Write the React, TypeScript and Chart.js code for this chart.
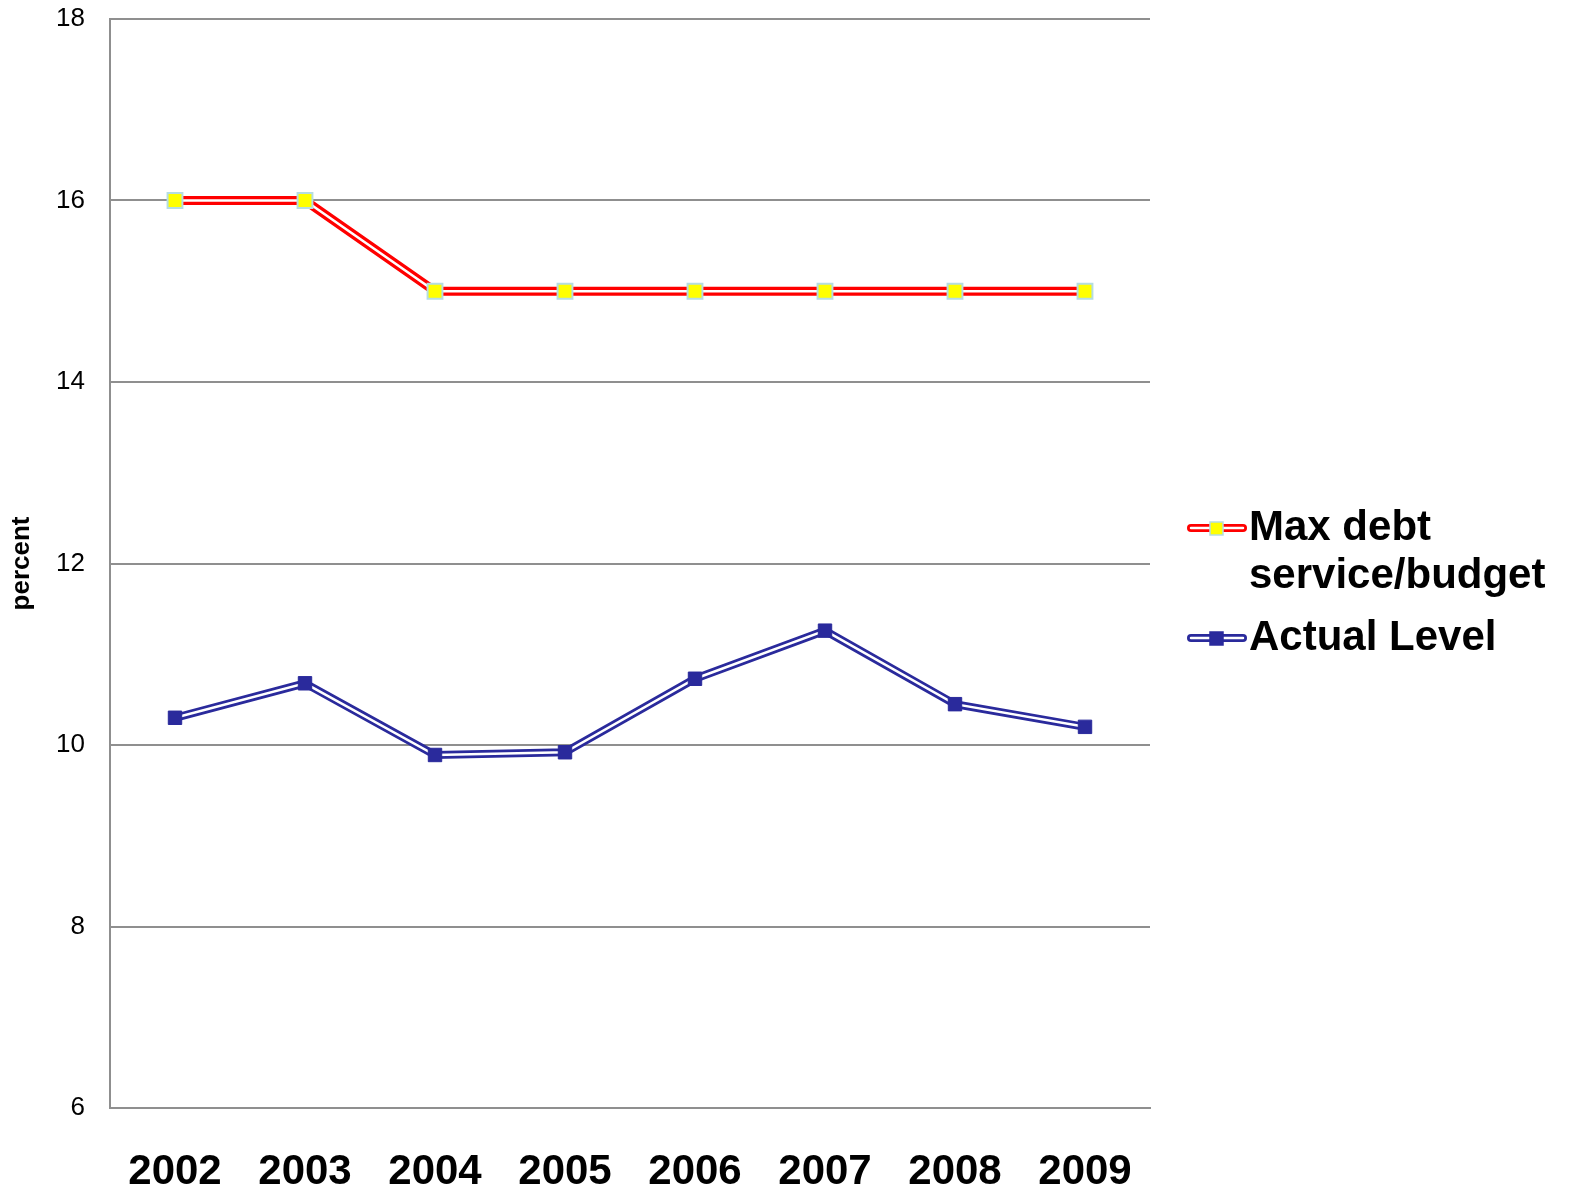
import React, { useEffect, useRef } from "react";
import { Chart, registerables } from "chart.js";

Chart.register(...registerables);

const years = ["2002", "2003", "2004", "2005", "2006", "2007", "2008", "2009"];
const maxDebt = [16, 16, 15, 15, 15, 15, 15, 15];
const actualLevel = [10.3, 10.68, 9.89, 9.92, 10.73, 11.26, 10.45, 10.2];
const legendLabels = [["Max debt", "service/budget"], ["Actual Level"]];
const yTicks = [6, 8, 10, 12, 14, 16, 18];

const RED = "#ff0000";
const BLUE = "#2a2a9c";
const YELLOW = "#ffff00";
const MARKER_BORDER = "#b4dde2";

const legendPlugin = {
  id: "customLegend",
  afterDraw(chart: any) {
    const ctx = chart.ctx;
    const items = [
      { color: RED, fill: YELLOW, border: MARKER_BORDER, y: 528, lines: legendLabels[0] },
      { color: BLUE, fill: BLUE, border: BLUE, y: 638, lines: legendLabels[1] },
    ];
    ctx.save();
    for (const it of items) {
      ctx.lineCap = "round";
      ctx.strokeStyle = it.color;
      ctx.lineWidth = 8;
      ctx.beginPath();
      ctx.moveTo(1191, it.y);
      ctx.lineTo(1243, it.y);
      ctx.stroke();
      ctx.strokeStyle = "#ffffff";
      ctx.lineWidth = 2.5;
      ctx.beginPath();
      ctx.moveTo(1191, it.y);
      ctx.lineTo(1243, it.y);
      ctx.stroke();
      ctx.fillStyle = it.fill;
      ctx.fillRect(1210, it.y - 6, 13, 13);
      ctx.strokeStyle = it.border;
      ctx.lineWidth = 1.5;
      ctx.strokeRect(1210, it.y - 6, 13, 13);
      ctx.fillStyle = "#000";
      ctx.font = "bold 42px Arial, 'Liberation Sans', sans-serif";
      ctx.textBaseline = "middle";
      ctx.textAlign = "left";
      it.lines.forEach((t: string, i: number) => {
        ctx.fillText(t, 1249, it.y + i * 48);
      });
    }
    ctx.restore();
  },
};

export default function App() {
  const ref = useRef<HTMLCanvasElement | null>(null);
  useEffect(() => {
    if (!ref.current) return;
    const chart = new Chart(ref.current, {
      type: "line",
      data: {
        labels: years,
        datasets: [
          {
            label: "Max debt service/budget",
            data: maxDebt,
            borderColor: "#ffffff",
            borderWidth: 2.5,
            pointStyle: "rect",
            pointRadius: 10.5,
            pointBackgroundColor: YELLOW,
            pointBorderColor: MARKER_BORDER,
            pointBorderWidth: 2,
            order: 1,
          },
          {
            label: "Actual Level",
            data: actualLevel,
            borderColor: "#ffffff",
            borderWidth: 2.5,
            pointStyle: "rect",
            pointRadius: 9.5,
            pointBackgroundColor: BLUE,
            pointBorderColor: BLUE,
            pointBorderWidth: 1,
            order: 2,
          },
          {
            label: "_redOuter",
            data: maxDebt,
            borderColor: RED,
            borderWidth: 9,
            pointRadius: 0,
            order: 3,
          },
          {
            label: "_blueOuter",
            data: actualLevel,
            borderColor: BLUE,
            borderWidth: 8,
            pointRadius: 0,
            order: 4,
          },
        ],
      },
      options: {
        animation: false,
        responsive: true,
        maintainAspectRatio: false,
        layout: { padding: { top: 0, right: 419, left: 0, bottom: 0 } },
        plugins: {
          legend: { display: false },
          tooltip: { enabled: false },
        },
        scales: {
          x: {
            offset: true,
            grid: { display: false, drawTicks: false },
            border: { display: true, color: "#8f8f8f", width: 2 },
            ticks: {
              padding: 39,
              color: "#000",
              font: { family: "Arial, 'Liberation Sans', sans-serif", size: 42, weight: "bold" },
            },
            afterFit(scale: any) {
              scale.height = 86;
            },
          },
          y: {
            min: 6,
            max: 18,
            afterBuildTicks(scale: any) {
              scale.ticks = yTicks.map((v) => ({ value: v }));
            },
            grid: { color: "#8f8f8f", lineWidth: 2, drawTicks: false },
            border: { display: true, color: "#8f8f8f", width: 2 },
            ticks: {
              padding: 25,
              color: "#000",
              font: { family: "Arial, 'Liberation Sans', sans-serif", size: 26 },
            },
            title: {
              display: true,
              text: "percent",
              color: "#000",
              padding: { top: 6, bottom: 0 },
              font: { family: "Arial, 'Liberation Sans', sans-serif", size: 26, weight: "bold" },
            },
            afterFit(scale: any) {
              scale.width = 110;
              scale.paddingTop = 19;
              scale.paddingBottom = 0;
            },
          },
        },
      },
      plugins: [legendPlugin],
    } as any);
    return () => chart.destroy();
  }, []);
  return (
    <div style={{ position: "fixed", left: 0, top: 0, width: 1569, height: 1194, background: "#fff" }}>
      <canvas ref={ref} />
    </div>
  );
}
